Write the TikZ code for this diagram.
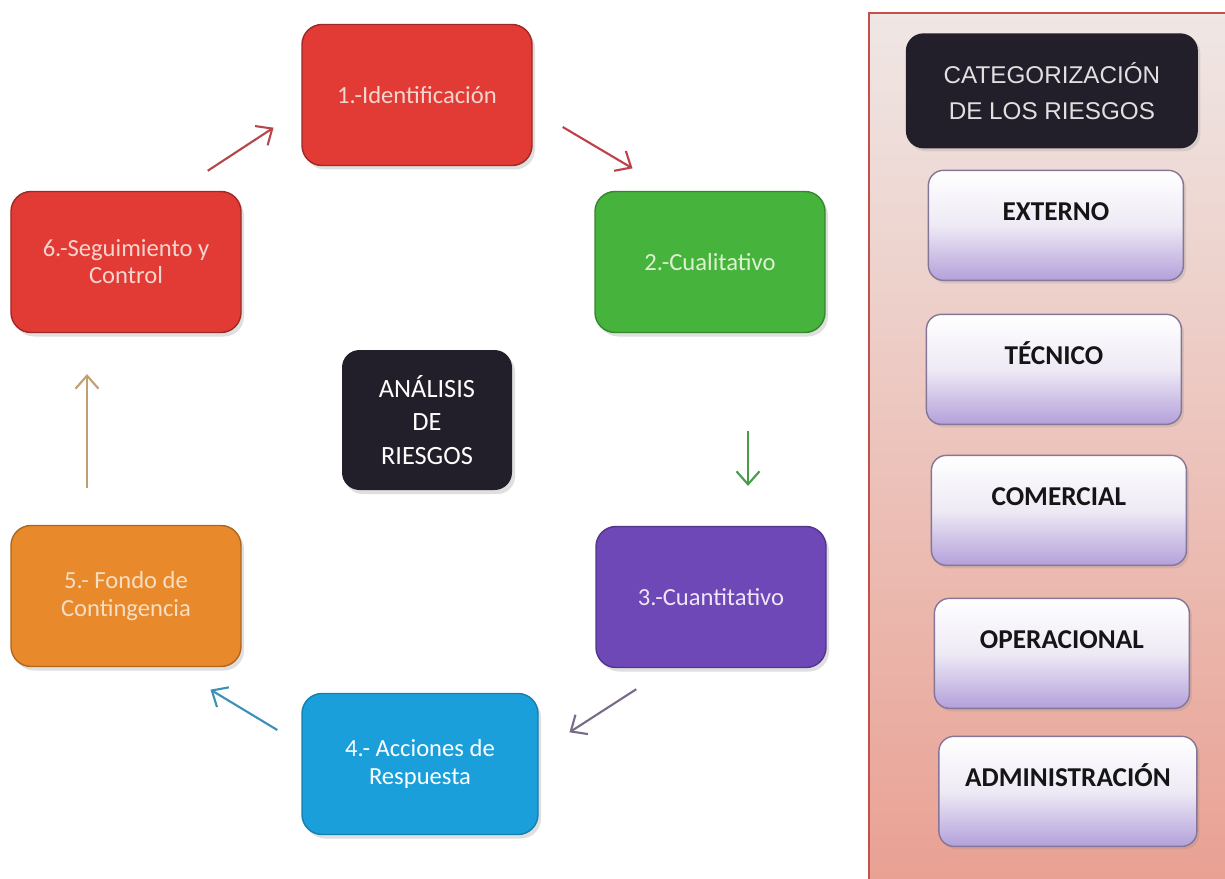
\documentclass[tikz,border=0pt]{standalone}
\usepackage{fontspec}
\setmainfont{Carlito}
\newfontfamily\arialfont{Liberation Sans}
\usetikzlibrary{positioning,arrows.meta,shadows}
\definecolor{rojo}{HTML}{E23B36}
\definecolor{verde}{HTML}{46B33D}
\definecolor{morado}{HTML}{6D48B6}
\definecolor{azul}{HTML}{1A9FDB}
\definecolor{naranja}{HTML}{E8892B}
\definecolor{negro}{HTML}{231F2A}
\definecolor{lila}{HTML}{B3A0DA}
\definecolor{salmon}{HTML}{E99F91}
\definecolor{rosado}{HTML}{EFE7E5}
\definecolor{borde}{HTML}{C4504C}
\tikzset{
  paso/.style={rectangle,rounded corners=0.4cm,minimum width=4.6cm,minimum height=2.82cm,align=center,
    font=\fontsize{14}{15.5}\selectfont,line width=0.8pt,
    drop shadow={opacity=0.25,shadow xshift=0.6mm,shadow yshift=-0.8mm}},
  cat/.style={rectangle,rounded corners=0.3cm,draw={rgb,255:red,133;green,117;blue,150},line width=0.8pt,
    top color=white,bottom color=lila,middle color={rgb,255:red,238;green,234;blue,245},
    minimum width=5.1cm,minimum height=2.2cm,text={rgb,255:red,21;green,21;blue,21},
    font=\bfseries\fontsize{15.5}{18}\selectfont,text height=0.4cm,text depth=0.61cm,
    drop shadow={opacity=0.2,shadow xshift=0.5mm,shadow yshift=-0.6mm}},
  flecha/.style={->,line width=1.2pt}
}
\begin{document}
\begin{tikzpicture}[shorten >=0.5pt,node distance=3cm,on grid,auto,>={Straight Barb[length=2.6mm,width=4.6mm]}]
\useasboundingbox (0,0) rectangle (24.5,-17.58);
% ciclo de analisis
\node[paso,fill=negro,text=white,minimum width=3.4cm,minimum height=2.8cm,rounded corners=0.35cm,
  font=\fontsize{15}{19.3}\selectfont](p_0) at (8.54,-8.40){ANÁLISIS\\DE\\RIESGOS};
\node[paso,fill=rojo,draw=rojo!70!black,text={rgb,255:red,246;green,213;blue,207}](p_1)[above=6.5cm of p_0,xshift=-0.2cm]{1.-Identificación};
\node[paso,fill=verde,draw=verde!75!black,text={rgb,255:red,221;green,242;blue,208}](p_2)[above right=3.16cm and 5.66cm of p_0]{2.-Cualitativo};
\node[paso,fill=morado,draw=morado!75!black,text={rgb,255:red,238;green,230;blue,246}](p_3)[below right=3.54cm and 5.68cm of p_0]{3.-Cuantitativo};
\node[paso,fill=azul,draw=azul!80!black,text=white,minimum width=4.72cm](p_4)[below=6.88cm of p_0,xshift=-0.14cm]{4.- Acciones de\\Respuesta};
\node[paso,fill=naranja,draw=naranja!75!black,text={rgb,255:red,246;green,222;blue,196}](p_5)[below left=3.52cm and 6.02cm of p_0]{5.- Fondo de\\Contingencia};
\node[paso,fill=rojo,draw=rojo!70!black,text={rgb,255:red,246;green,213;blue,207}](p_6)[above left=3.16cm and 6.02cm of p_0]{6.-Seguimiento y\\Control};
\draw[flecha,draw={rgb,255:red,181;green,71;blue,74}] ([xshift=-0.68cm,yshift=0.4cm]p_6.north east) -- ([xshift=-0.54cm,yshift=0.78cm]p_1.south west);
\draw[flecha,draw={rgb,255:red,192;green,64;blue,72}] ([xshift=0.6cm,yshift=-0.64cm]p_1.east) -- ([xshift=0.78cm,yshift=0.44cm]p_2.north west);
\draw[flecha,draw={rgb,255:red,74;green,154;blue,74}] ([xshift=0.76cm,yshift=-1.96cm]p_2.south) -- ([xshift=0.74cm,yshift=0.78cm]p_3.north);
\draw[flecha,draw={rgb,255:red,122;green,106;blue,138}] ([xshift=0.82cm,yshift=-0.42cm]p_3.south west) -- ([xshift=0.6cm,yshift=-0.8cm]p_4.north east);
\draw[flecha,draw={rgb,255:red,58;green,144;blue,184}] ([xshift=-0.48cm,yshift=0.68cm]p_4.west) -- ([xshift=-0.64cm,yshift=-0.44cm]p_5.south east);
\draw[flecha,draw={rgb,255:red,192;green,160;blue,112}] ([xshift=-0.78cm,yshift=0.74cm]p_5.north) -- ([xshift=-0.78cm,yshift=-0.8cm]p_6.south);
% categorias
\node[rectangle,draw=borde,line width=1pt,top color=rosado,bottom color=salmon,minimum width=7.5cm,minimum height=17.8cm,anchor=north west](k_p) at (17.36,-0.24){};
\node[rectangle,rounded corners=0.35cm,fill=negro,minimum width=5.84cm,minimum height=2.3cm,align=center,
  text={rgb,255:red,224;green,224;blue,224},font=\arialfont\fontsize{13.8}{20.4}\selectfont,
  drop shadow={opacity=0.2,shadow xshift=0.5mm,shadow yshift=-0.6mm}](c_0)[below=0.42cm of k_p.north,xshift=-0.09cm]{CATEGORIZACIÓN\\DE LOS RIESGOS};
\node[cat](c_1)[below=2.69cm of c_0,xshift=0.08cm]{EXTERNO};
\node[cat](c_2)[below=2.88cm of c_1,xshift=-0.04cm]{TÉCNICO};
\node[cat](c_3)[below=2.82cm of c_2,xshift=0.1cm]{COMERCIAL};
\node[cat](c_4)[below=2.86cm of c_3,xshift=0.06cm]{OPERACIONAL};
\node[cat,minimum width=5.16cm](c_5)[below=2.76cm of c_4,xshift=0.12cm]{ADMINISTRACIÓN};
\end{tikzpicture}
\end{document}
